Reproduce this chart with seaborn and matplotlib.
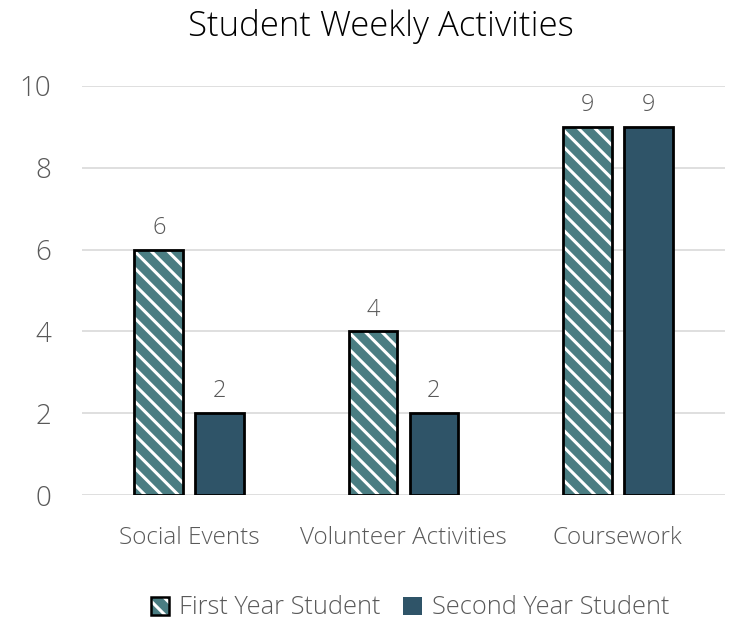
import matplotlib
matplotlib.use("Agg")
import matplotlib.pyplot as plt
import seaborn as sns
import pandas as pd
from matplotlib.patches import Patch
from matplotlib.legend_handler import HandlerTuple

categories = ["Social Events", "Volunteer Activities", "Coursework"]
series_names = ["First Year Student", "Second Year Student"]
first_year = [6, 4, 9]
second_year = [2, 2, 9]
y_ticks = [0, 2, 4, 6, 8, 10]

teal = "#4a7d82"
dark = "#2f5468"
gray = "#595959"
HATCH = "\\\\"

sns.set_theme(style="white")
plt.rcParams['font.family'] = ['Open Sans', 'DejaVu Sans']
plt.rcParams['hatch.linewidth'] = 2.2

df = pd.DataFrame({
    "category": categories * 2,
    "series": [series_names[0]] * 3 + [series_names[1]] * 3,
    "value": first_year + second_year,
})

fig = plt.figure(figsize=(7.31, 6.21), dpi=100)
ax = fig.add_axes([82/731, 1-495/621, (725-82)/731, (495-86)/621])

palette = {series_names[0]: teal, series_names[1]: dark}
sns.barplot(data=df, x="category", y="value", hue="series", order=categories,
            hue_order=series_names, palette=palette, width=0.567, gap=0.2,
            saturation=1, legend=False, ax=ax, linewidth=0, edgecolor="none")
n_first = len(categories)
bars = list(ax.patches)
for i, p in enumerate(bars):
    if i < n_first:
        p.set_facecolor(teal)
        p.set_edgecolor("white")
        p.set_hatch(HATCH)
        p.set_linewidth(0)
# border layer
sns.barplot(data=df, x="category", y="value", hue="series", order=categories,
            hue_order=series_names, width=0.567, gap=0.2, fill=False,
            legend=False, ax=ax, linewidth=2, edgecolor="black")
for p in ax.patches[len(bars):]:
    p.set_facecolor("none")
    p.set_edgecolor("black")
    p.set_linewidth(2)

# value labels
for p in bars:
    h = p.get_height()
    ax.annotate(f"{h:g}", (p.get_x() + p.get_width()/2, h), xytext=(0, 7),
                textcoords="offset points", ha="center", va="bottom",
                fontsize=17, color=gray, fontweight="light")

ax.set_xlim(-0.5, 2.5)
ax.set_ylim(0, 10)
ax.set_yticks(y_ticks)
ax.set_yticklabels([str(t) for t in y_ticks], fontsize=20, color=gray, fontweight="light")
ax.set_xticks(range(len(categories)))
ax.set_xticklabels(categories, fontsize=17.5, color=gray, fontweight="light")
ax.tick_params(axis="y", pad=22, length=0)
ax.tick_params(axis="x", pad=22, length=0)
ax.set_xlabel("")
ax.set_ylabel("")
ax.grid(axis="y", color="#d9d9d9", linewidth=1.2)
ax.set_axisbelow(True)
for s in ax.spines.values():
    s.set_visible(False)

fig.suptitle("Student Weekly Activities", x=381/731, y=1-27/621, va="center",
             fontsize=25, color="black", fontweight="light")

h1_fill = Patch(facecolor=teal, edgecolor="white", hatch=HATCH, linewidth=0)
h1_border = Patch(facecolor="none", edgecolor="black", linewidth=1.8)
h2 = Patch(facecolor=dark, edgecolor=dark, linewidth=0)
leg = fig.legend([(h1_fill, h1_border), h2], series_names, loc="center",
                 bbox_to_anchor=(410/731, 1-608/621),
                 handler_map={tuple: HandlerTuple(ndivide=1, pad=0)},
                 ncol=2, frameon=False, fontsize=18.3, handlelength=0.72, handleheight=0.72,
                 columnspacing=0.9, handletextpad=0.4)
for t in leg.get_texts():
    t.set_color(gray)
    t.set_fontweight("light")

fig.savefig("out.png", dpi=100)
